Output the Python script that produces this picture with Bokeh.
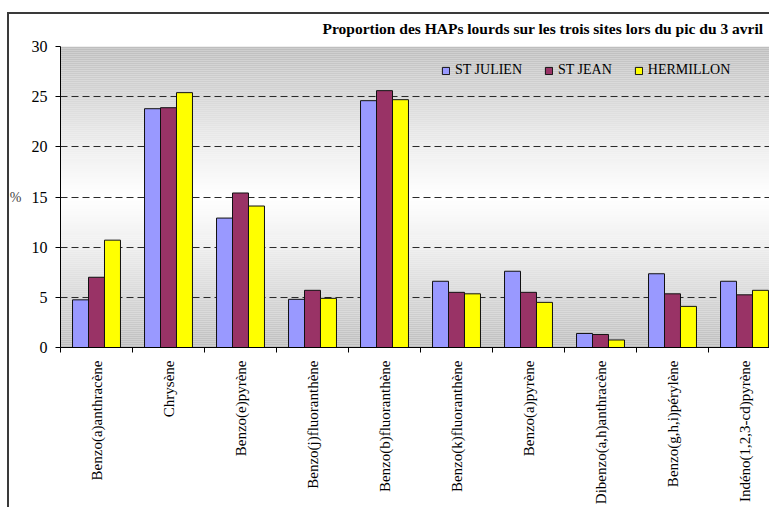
import math
import numpy as np
from bokeh.plotting import figure
from bokeh.models import (Range1d, FixedTicker, CustomJSTickFormatter, Legend,
                          LegendItem, Title, ColumnDataSource)
from bokeh.embed import file_html
from bokeh.resources import INLINE

# ---- data ----
categories = ["Benzo(a)anthracène", "Chrysène", "Benzo(e)pyrène",
              "Benzo(j)fluoranthène", "Benzo(b)fluoranthène",
              "Benzo(k)fluoranthène", "Benzo(a)pyrène",
              "Dibenzo(a,h)anthracène", "Benzo(g,h,i)pérylène",
              "Indéno(1,2,3-cd)pyrène"]
st_julien = [4.75, 23.8, 12.9, 4.8, 24.6, 6.6, 7.6, 1.4, 7.35, 6.6]
st_jean = [7.0, 23.9, 15.4, 5.7, 25.6, 5.5, 5.5, 1.3, 5.35, 5.25]
hermillon = [10.7, 25.4, 14.1, 4.9, 24.7, 5.35, 4.5, 0.75, 4.1, 5.7]
series_names = ["ST JULIEN", "ST JEAN", "HERMILLON"]
y_ticks = [0, 5, 10, 15, 20, 25, 30]
title_text = "Proportion des HAPs lourds sur les trois sites lors du pic du 3 avril"

colors = ["#9999FF", "#993366", "#FFFF00"]
FONT = "Liberation Serif"

W, H = 769, 507
left_b, top_b, frame_bottom = 60, 46, 349
bottom_b = H - frame_bottom
frame_w = W - left_b
cat_px = 72.0

# chart-area border (left and top edges) painted as the element background,
# seen through the transparent canvas border area
bg_css = ("linear-gradient(#3a3a3a, #3a3a3a) 7px 12px / 2px 100% no-repeat, "
          "linear-gradient(#3a3a3a, #3a3a3a) 7px 12px / 100% 2px no-repeat, "
          "#ffffff")

p = figure(width=W, height=H, output_backend="svg", toolbar_location=None,
           x_range=Range1d(0, frame_w / cat_px), y_range=Range1d(0, 30),
           min_border_left=left_b, min_border_right=0,
           min_border_top=top_b, min_border_bottom=bottom_b,
           background_fill_color="white", border_fill_color=None,
           outline_line_color=None,
           styles={"background": bg_css})

# gradient background (grey - white - grey)
nb = 150
edges = np.linspace(0, 30, nb + 1)
mids = (edges[:-1] + edges[1:]) / 2
t = np.abs(mids / 30 - 0.5) * 2
vals = (255 - (255 - 190) * t ** 1.2).astype(int)
bg_colors = ["#%02x%02x%02x" % (v, v, v) for v in vals]
p.quad(left=0, right=11, bottom=edges[:-1], top=edges[1:],
       fill_color=bg_colors, line_color=None, level="image")

# bars
x_idx = np.arange(len(categories)) + 0.5
bw = 0.222
renderers = []
for k, (vals_s, c) in enumerate(zip([st_julien, st_jean, hermillon], colors)):
    src = ColumnDataSource(dict(x=x_idx + (k - 1) * bw, top=vals_s))
    r = p.vbar(x="x", top="top", width=bw, bottom=0, source=src,
               fill_color=c, line_color="#111111", line_width=1)
    renderers.append(r)

# grid
p.xgrid.visible = False
p.ygrid.ticker = FixedTicker(ticks=y_ticks)
p.ygrid.grid_line_color = "#2a2a2a"
p.ygrid.grid_line_dash = "7 4"
p.ygrid.grid_line_width = 1

# y axis
p.yaxis.ticker = FixedTicker(ticks=y_ticks)
p.yaxis.axis_line_color = "black"
p.yaxis.major_tick_line_color = "black"
p.yaxis.major_tick_out = 5
p.yaxis.major_tick_in = 0
p.yaxis.minor_tick_line_color = None
p.yaxis.major_label_text_font = FONT
p.yaxis.major_label_text_font_size = "16px"
p.yaxis.major_label_text_color = "black"
p.yaxis.major_label_standoff = 8
p.yaxis.axis_label = "%"
p.yaxis.axis_label_text_font = FONT
p.yaxis.axis_label_text_font_size = "14px"
p.yaxis.axis_label_text_font_style = "normal"
p.yaxis.axis_label_orientation = "horizontal"
p.yaxis.axis_label_standoff = 7

# x axis: labels at centers, ticks at boundaries (minor ticks)
p.xaxis.ticker = FixedTicker(ticks=list(x_idx),
                             minor_ticks=list(range(len(categories) + 1)))
p.xaxis.formatter = CustomJSTickFormatter(
    args=dict(labels=categories),
    code="const i = Math.floor(tick); return (i >= 0 && i < labels.length) ? labels[i] : '';")
p.xaxis.major_label_orientation = math.pi / 2
p.xaxis.major_tick_out = 0
p.xaxis.major_tick_in = 0
p.xaxis.minor_tick_out = 5
p.xaxis.minor_tick_in = 0
p.xaxis.minor_tick_line_color = "black"
p.xaxis.axis_line_color = "black"
p.xaxis.major_label_text_font = FONT
p.xaxis.major_label_text_font_size = "15px"
p.xaxis.major_label_text_color = "black"
p.xaxis.major_label_standoff = 8

# title
title = Title(text=title_text, align="left", offset=262, standoff=20,
              text_font=FONT, text_font_size="15.5px", text_font_style="bold",
              text_color="black")
p.add_layout(title, "above")

# legend
legend = Legend(items=[LegendItem(label=n, renderers=[r])
                       for n, r in zip(series_names, renderers)],
                orientation="horizontal", location=(381, 269),
                padding=0, margin=0, spacing=22,
                glyph_width=9, glyph_height=9, label_height=14,
                label_standoff=5, border_line_color=None,
                background_fill_alpha=0,
                label_text_font=FONT, label_text_font_size="14px",
                label_text_color="black")
p.add_layout(legend, "center")

open("out.html", "w").write(file_html(p, INLINE))
